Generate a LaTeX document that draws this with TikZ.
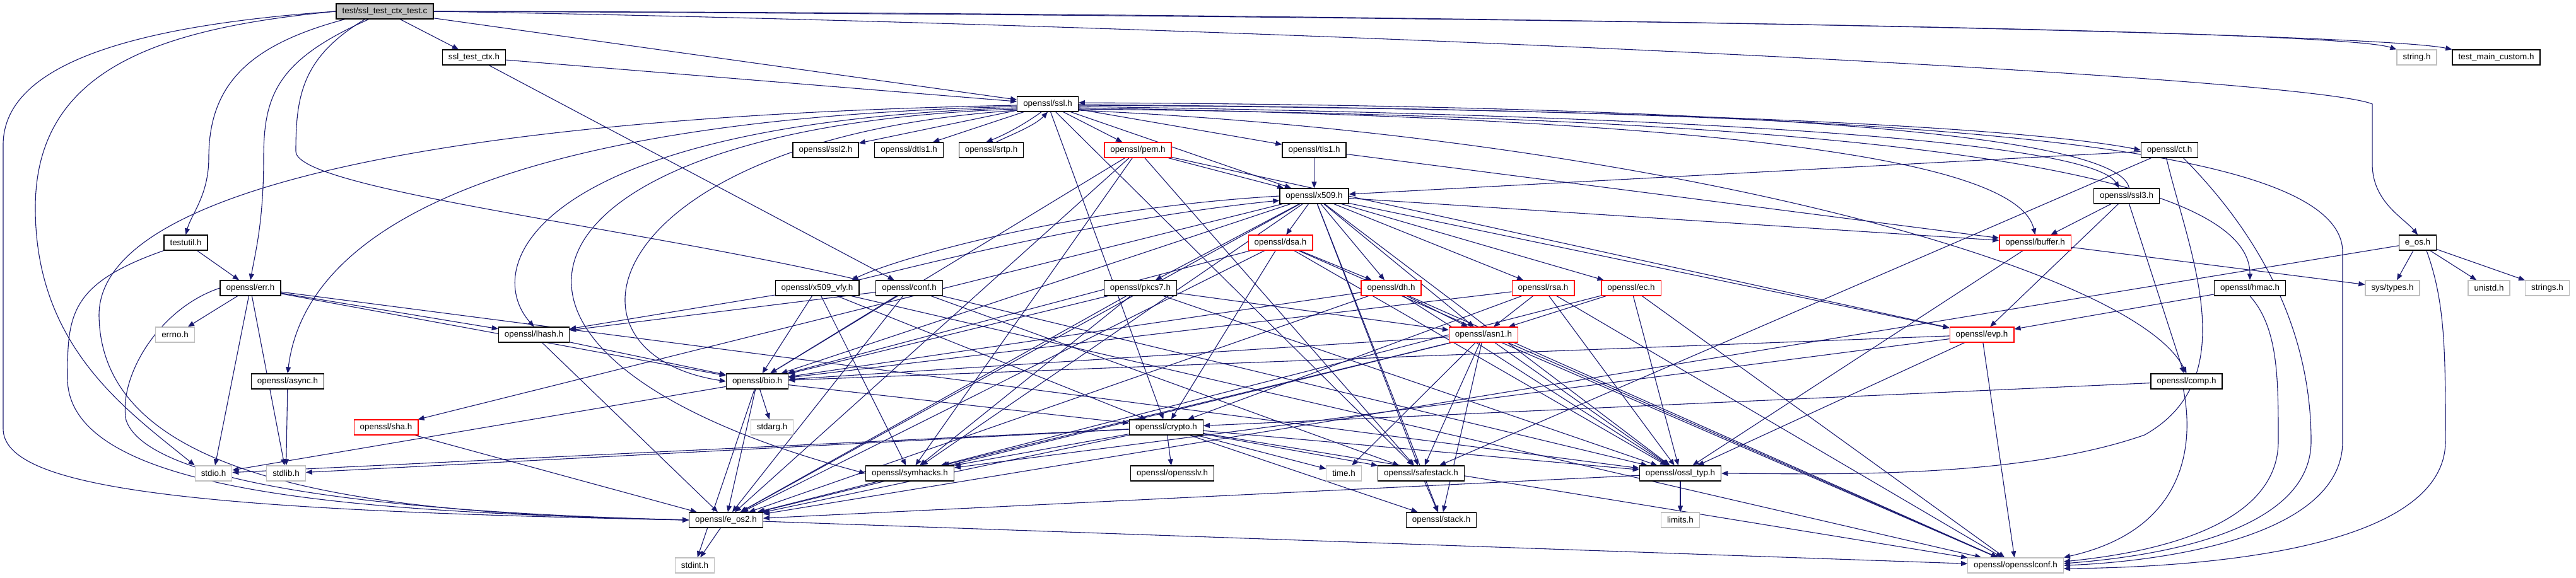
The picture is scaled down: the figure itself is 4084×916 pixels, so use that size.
\documentclass[tikz,border=0pt]{standalone}
\usepackage{fontspec}
\setmainfont{Liberation Sans}
\usetikzlibrary{arrows.meta}
\definecolor{edgecol}{HTML}{191970}
\definecolor{sysgray}{HTML}{BFBFBF}
\definecolor{topfill}{HTML}{BFBFBF}
\pgfdeclarelayer{bg}
\pgfsetlayers{bg,main}
\tikzset{
  box/.style={draw=black, fill=white, line width=1.3pt, minimum height=24pt,
    inner xsep=9.5pt, inner ysep=0pt, font=\fontsize{13.4}{16}\selectfont},
  sysbox/.style={box, draw=sysgray},
  redbox/.style={box, draw=red},
  topbox/.style={box, fill=topfill},
  edge/.style={draw=edgecol, line width=1.1pt, -{Triangle[length=10pt,width=8pt]}},
}
\begin{document}
\begin{tikzpicture}[x=1pt,y=-1pt]
\useasboundingbox (0,0) rectangle (4084,916);
% nodes
\node[topbox] (T) at (610,18) {test/ssl\_test\_ctx\_test.c};
\node[box] (stc) at (751.5,91) {ssl\_test\_ctx.h};
\node[sysbox] (strh) at (3831.5,91) {string.h};
\node[box] (tmc) at (3957.5,91) {test\_main\_custom.h};
\node[box] (ssl) at (1661,165) {openssl/ssl.h};
\node[box] (ssl2) at (1309,238) {openssl/ssl2.h};
\node[box] (dtls1) at (1441,238) {openssl/dtls1.h};
\node[box] (srtp) at (1571.5,238) {openssl/srtp.h};
\node[redbox] (pem) at (1804,238) {openssl/pem.h};
\node[box] (tls1) at (2083.5,238) {openssl/tls1.h};
\node[box] (ct) at (3439.5,238) {openssl/ct.h};
\node[box] (x509) at (2083.5,311) {openssl/x509.h};
\node[box] (ssl3) at (3371.5,311) {openssl/ssl3.h};
\node[box] (testutil) at (294.5,385) {testutil.h};
\node[redbox] (dsa) at (2030,385) {openssl/dsa.h};
\node[redbox] (buffer) at (3226.5,385) {openssl/buffer.h};
\node[box] (eos) at (3833,385) {e\_os.h};
\node[box] (err) at (397,457) {openssl/err.h};
\node[box] (x509vfy) at (1295.5,457) {openssl/x509\_vfy.h};
\node[box] (conf) at (1441.5,457) {openssl/conf.h};
\node[box] (pkcs7) at (1808,457) {openssl/pkcs7.h};
\node[redbox] (dh) at (2205.5,457) {openssl/dh.h};
\node[redbox] (rsa) at (2446.5,457) {openssl/rsa.h};
\node[redbox] (ec) at (2586,457) {openssl/ec.h};
\node[box] (hmac) at (3567,457) {openssl/hmac.h};
\node[sysbox] (systypes) at (3793,457) {sys/types.h};
\node[sysbox] (unistd) at (3946,457) {unistd.h};
\node[sysbox] (strings) at (4038.5,457) {strings.h};
\node[sysbox] (errno) at (277.5,531) {errno.h};
\node[box] (lhash) at (846.5,531) {openssl/lhash.h};
\node[redbox] (asn1) at (2352,531) {openssl/asn1.h};
\node[redbox] (evp) at (3142,531) {openssl/evp.h};
\node[box] (async) at (456,605) {openssl/async.h};
\node[box] (bio) at (1200.5,605) {openssl/bio.h};
\node[box] (comp) at (3466.5,605) {openssl/comp.h};
\node[redbox] (sha) at (612,678) {openssl/sha.h};
\node[sysbox] (stdarg) at (1224,678) {stdarg.h};
\node[box] (crypto) at (1849,678) {openssl/crypto.h};
\node[sysbox] (stdio) at (338.5,751) {stdio.h};
\node[sysbox] (stdlib) at (453.5,751) {stdlib.h};
\node[box] (symhacks) at (1442.5,751) {openssl/symhacks.h};
\node[box] (opensslv) at (1858.5,751) {openssl/opensslv.h};
\node[sysbox] (time) at (2130.5,751) {time.h};
\node[box] (safestack) at (2253,751) {openssl/safestack.h};
\node[box] (ossltyp) at (2664,751) {openssl/ossl\_typ.h};
\node[box] (eos2) at (1151,825) {openssl/e\_os2.h};
\node[box] (stack) at (2285,825) {openssl/stack.h};
\node[sysbox] (limits) at (2664,825) {limits.h};
\node[sysbox] (stdint) at (1101.5,897) {stdint.h};
\node[sysbox] (osslconf) at (3195.5,897) {openssl/opensslconf.h};
% edges
\begin{pgfonlayer}{bg}
\fill[white] (0,0) rectangle (4084,916);
% from the test file
\draw[edge] (T.west) .. controls (250,38) and (5,90) .. (5,230) -- (5,680) .. controls (5,775) and (300,810) .. (eos2.west);
\draw[edge] (T.west) .. controls (250,45) and (56,110) .. (56,330) .. controls (56,550) and (200,650) .. (stdio.north west);
\draw[edge] ([xshift=14pt]T.south west) .. controls (400,70) and (331,130) .. (331,250) .. controls (331,310) and (303,340) .. (testutil.north);
\draw[edge] ([xshift=52pt]T.south west) .. controls (440,95) and (418,150) .. (418,250) .. controls (418,350) and (405,400) .. (err.north);
\draw[edge] ([xshift=46pt]T.south west) .. controls (480,90) and (469,150) .. (469,240) .. controls (469,300) and (1000,360) .. (x509vfy.north east);
\draw[edge] (T) -- (stc);
\draw[edge] (T) -- (ssl);
\draw[edge] (T.east) .. controls (2200,24) and (3700,45) .. (strh.north west);
\draw[edge] (T.east) .. controls (2200,20) and (3750,50) .. (tmc.north west);
\draw[edge] (T.east) .. controls (2000,40) and (3650,120) .. (3761,165) -- (3761,260) .. controls (3761,320) and (3810,345) .. (eos.north);
\draw[edge] (testutil.south west) .. controls (110,450) and (107,500) .. (107,600) .. controls (107,790) and (600,812) .. (eos2.west);
\draw[edge] (err.west) .. controls (250,490) and (187,600) .. (200,667) .. controls (240,780) and (700,815) .. (eos2.west);
% ssl.h, routed
\draw[edge] ([xshift=-10pt]ssl.south) .. controls (1620,200) and (1590,215) .. ([xshift=-8pt]srtp.north);
\draw[edge] ([xshift=8pt]srtp.north) .. controls (1600,215) and (1640,200) .. ([xshift=0pt]ssl.south);
\draw[edge] ([yshift=-4pt]ssl.east) .. controls (2800,185) and (3320,230) .. ([xshift=-12pt]ssl3.north);
\draw[edge] ([xshift=4pt]ssl3.north) .. controls (3360,215) and (2800,168) .. ([yshift=2pt]ssl.east);
\draw[edge] ([yshift=-2pt]ssl.west) .. controls (700,185) and (157,300) .. (157,500) .. controls (160,770) and (600,816) .. (eos2.west);
\draw[edge] ([yshift=-4pt]ssl.west) .. controls (750,190) and (482,380) .. (async.north);
\draw[edge] ([yshift=-6pt]ssl.west) .. controls (850,195) and (760,420) .. (lhash.north);
\draw[edge] ([yshift=-8pt]ssl.west) .. controls (800,200) and (650,560) .. (symhacks.west);
\draw[edge] ([yshift=-10pt]ssl.west) .. controls (950,220) and (860,560) .. (bio.west);
\draw[edge] ([yshift=-2pt]ssl.east) .. controls (2600,172) and (3200,200) .. (ct.west);
\draw[edge] ([yshift=-6pt]ssl.east) .. controls (2800,190) and (3200,260) .. (buffer.north);
\draw[edge] ([yshift=-8pt]ssl.east) .. controls (2900,185) and (3567,260) .. (hmac.north);
\draw[edge] ([yshift=-1pt]ssl.east) .. controls (3000,176) and (3714,220) .. (3714,400) -- (3714,700) .. controls (3714,860) and (3400,892) .. (osslconf.east);
\draw[edge] ([yshift=-10pt]ssl.east) .. controls (2600,215) and (3380,420) .. (comp.north);
% right side, routed
\draw[edge] (hmac.south) .. controls (3612,520) and (3612,600) .. (3612,700) .. controls (3612,840) and (3400,878) .. ([yshift=6pt]osslconf.east);
\draw[edge] ([xshift=22pt]ct.south) .. controls (3560,350) and (3664,500) .. (3664,700) .. controls (3664,850) and (3400,884) .. ([yshift=3pt]osslconf.east);
\draw[edge] ([xshift=14pt]eos.south) .. controls (3877,480) and (3877,560) .. (3877,700) .. controls (3877,870) and (3500,900) .. ([yshift=-5pt]osslconf.east);
\draw[edge] ([xshift=-5pt]comp.south) .. controls (3478,700) and (3470,840) .. (osslconf.north east);
\draw[edge] ([xshift=-5pt]ct.south) .. controls (3470,400) and (3560,600) .. (3400,690) .. controls (3200,760) and (2900,752) .. (ossltyp.east);
% x509 pair
\draw[edge] (x509.west) .. controls (1700,330) and (1420,410) .. ([xshift=-12pt]x509vfy.north east);
\draw[edge] ([xshift=-2pt]x509vfy.north east) .. controls (1480,415) and (1760,345) .. ([yshift=-7pt]x509.west);
\foreach \a/\b in {stc/ssl, stc/conf, testutil/err,
  err/errno, err/stdio, err/stdlib, err/lhash, err/bio, err/ossltyp,
  lhash/eos2, lhash/bio,
  ssl/x509, ssl/crypto, ssl/pem, ssl/safestack, ssl/ssl2, ssl/tls1, ssl/dtls1,
  ssl3/comp, ssl3/buffer, ssl3/evp,
  tls1/buffer, tls1/x509,
  ct/x509, ct/safestack,
  pem/eos2, pem/bio, pem/safestack, pem/evp, pem/x509, pem/symhacks,
  x509/eos2, x509/ossltyp, x509/symhacks, x509/buffer, x509/evp, x509/bio, x509/stack, x509/asn1,
  x509/safestack, x509/ec, x509/dsa, x509/dh, x509/rsa, x509/sha, x509/pkcs7,
  x509vfy/osslconf, x509vfy/lhash, x509vfy/bio, x509vfy/crypto, x509vfy/symhacks,
  conf/bio, conf/lhash, conf/safestack, conf/eos2, conf/ossltyp,
  pkcs7/asn1, pkcs7/bio, pkcs7/eos2, pkcs7/symhacks, pkcs7/ossltyp,
  dsa/eos2, dsa/bio, dsa/crypto, dsa/ossltyp, dsa/dh, dsa/osslconf,
  dh/eos2, dh/bio, dh/asn1, dh/ossltyp, dh/osslconf,
  rsa/asn1, rsa/bio, rsa/crypto, rsa/ossltyp, rsa/osslconf,
  ec/osslconf, ec/asn1, ec/symhacks, ec/ossltyp,
  asn1/time, asn1/eos2, asn1/osslconf, asn1/bio, asn1/stack, asn1/safestack, asn1/symhacks, asn1/ossltyp,
  evp/osslconf, evp/ossltyp, evp/symhacks, evp/bio,
  buffer/ossltyp, buffer/systypes,
  hmac/evp,
  comp/crypto,
  eos/eos2, eos/systypes, eos/unistd, eos/strings,
  async/stdlib, sha/eos2,
  bio/eos2, bio/stdio, bio/stdarg, bio/crypto, bio/stdint,
  crypto/stdlib, crypto/time, crypto/eos2, crypto/stdio, crypto/safestack, crypto/opensslv,
  crypto/ossltyp, crypto/osslconf, crypto/symhacks, crypto/stack,
  symhacks/eos2, safestack/stack, ossltyp/eos2, ossltyp/limits,
  eos2/osslconf, eos2/stdint}
  \draw[edge] (\a) -- (\b);
\end{pgfonlayer}
\end{tikzpicture}
\end{document}
